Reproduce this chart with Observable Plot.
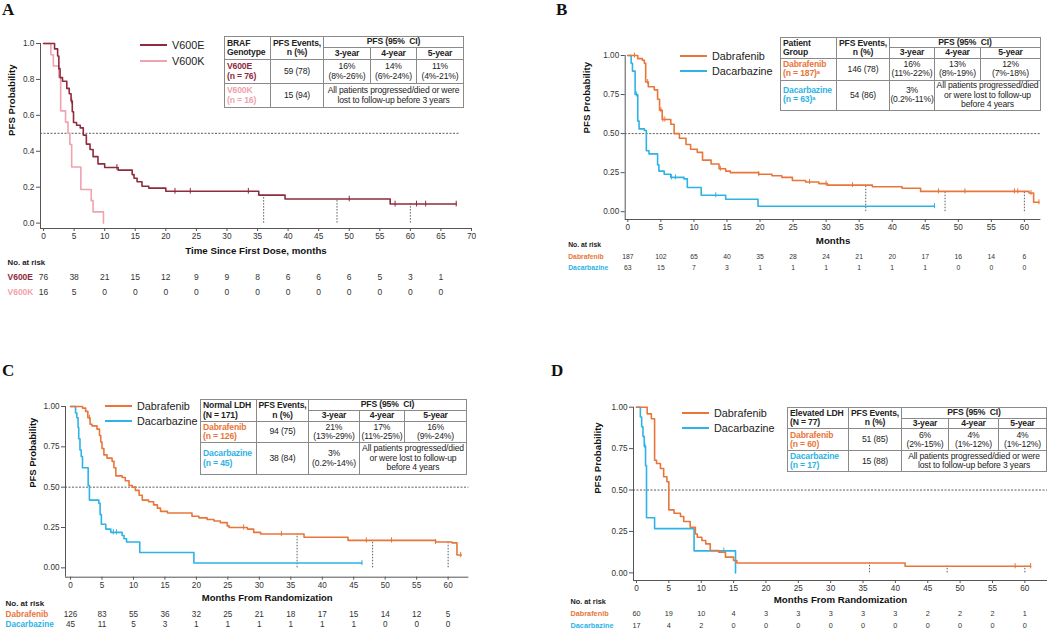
<!DOCTYPE html>
<html><head><meta charset="utf-8">
<script src="https://cdn.jsdelivr.net/npm/d3@7"></script>
<script src="https://cdn.jsdelivr.net/npm/@observablehq/plot@0.6"></script>
<style>
body{margin:0;background:#fff;width:1050px;height:637px;position:relative;overflow:hidden;font-family:"Liberation Sans",Arial,sans-serif;}
.panel{position:absolute;}
.letter{position:absolute;font-family:"Liberation Serif","Times New Roman",serif;font-weight:bold;font-size:17px;line-height:17px;color:#111}
.leg{position:absolute;font-size:10.8px;color:#222;display:flex;align-items:center;height:14px;white-space:nowrap}
.leg .ln{display:inline-block;width:27px;height:2px;margin-right:5px}
table.t{position:absolute;border-collapse:collapse;table-layout:fixed;font-size:8.6px;color:#222;background:#fff;letter-spacing:-0.15px}
table.t td{border:1px solid #8a8a8a;text-align:center;padding:0;line-height:1.1;white-space:nowrap;overflow:visible}
</style></head><body>
<script>
const ORANGE = "#E8763A", CYAN = "#2DB3E6", DRED = "#8E2B3D", PINK = "#EFA3AD";

// ---------- Panel A ----------
const tA_E = [0,1.8,2.3,2.5,2.7,3.1,3.8,4.2,4.5,4.7,4.9,5.4,6.0,6.5,7.0,7.6,8.1,8.9,10.0,12.2,14.5,14.8,15.3,16.1,17.2,20.0,35.2,39.5,56.7,67.5];
const sA_E = [1,0.97,0.93,0.86,0.81,0.79,0.75,0.72,0.68,0.62,0.56,0.545,0.53,0.49,0.44,0.41,0.37,0.33,0.31,0.295,0.27,0.25,0.23,0.205,0.195,0.177,0.156,0.134,0.106,0.106];
const cA_E = [4.6,12.0,21.5,24.0,33.5,50.0,57.5,61.0,62.5,67.5];
const tA_K = [0,1.2,1.6,2.5,2.8,3.6,4.0,4.3,4.6,6.1,7.8,8.1,9.8];
const sA_K = [1,0.9375,0.875,0.8125,0.625,0.5625,0.5,0.4375,0.3125,0.1875,0.125,0.0625,0];
const riskTimesA = [0,5,10,15,20,25,30,35,40,45,50,55,60,65];
const riskA_E = [76,38,21,15,12,9,9,8,6,6,6,5,3,1];
const riskA_K = [16,5,0,0,0,0,0,0,0,0,0,0,0,0];
const xTicksA = [0,5,10,15,20,25,30,35,40,45,50,55,60,65,70];
const yTicksA = [0,0.2,0.4,0.6,0.8,1.0];

// ---------- Panel B ----------
const tB_D = [0,1.5,2.2,2.5,2.7,3.1,4.0,4.5,4.8,5.2,6.5,7.0,7.8,8.8,9.5,10.5,11.3,12.6,13.8,14.8,15.5,19.8,21.8,23.3,24.9,26.9,28.9,30.2,37,41.5,44.3,60.7,61.4,62.2];
const sB_D = [1,0.98,0.97,0.95,0.83,0.80,0.78,0.72,0.65,0.59,0.56,0.50,0.47,0.43,0.40,0.38,0.33,0.305,0.275,0.26,0.25,0.24,0.23,0.22,0.20,0.19,0.18,0.17,0.16,0.15,0.13,0.12,0.06,0.06];
const cB_D = [1.0,3.0,5.0,5.3,5.6,14.0,19.8,27.5,30.0,34.0,47.0,51.0,58.5,59.0,61.0,62.2];
const tB_C = [0,0.5,0.7,1.1,1.5,1.7,2.5,2.8,3.2,4.5,4.7,5.5,6.5,8.5,9.0,11.1,14.8,19.7,46.4];
const sB_C = [1,0.95,0.90,0.75,0.58,0.53,0.52,0.39,0.37,0.30,0.26,0.24,0.22,0.21,0.155,0.105,0.08,0.035,0.035];
const cB_C = [1.3,6.6,7.2,13.3,46.4];
const riskTimesB = [0,5,10,15,20,25,30,35,40,45,50,55,60];
const riskB_D = [187,102,65,40,35,28,24,21,20,17,16,14,6];
const riskB_C = [63,15,7,3,1,1,1,1,1,1,0,0,0];

// ---------- Panel C ----------
const tC_D = [0,1.9,2.4,2.75,3.1,3.4,4.2,4.6,4.8,5.0,5.3,5.8,6.6,6.9,7.2,8.2,8.7,9.3,9.8,10.3,10.9,11.4,12.4,13.2,13.8,14.3,15.4,19.3,20.4,21.7,22.8,23.8,24.9,25.2,28.1,29.1,30.2,37.1,44.1,58.0,60.6,61.4,62.1];
const sC_D = [1,0.99,0.97,0.93,0.89,0.88,0.86,0.82,0.78,0.74,0.70,0.68,0.66,0.62,0.57,0.56,0.54,0.51,0.50,0.48,0.45,0.42,0.41,0.39,0.37,0.35,0.34,0.32,0.31,0.30,0.29,0.28,0.26,0.25,0.24,0.22,0.21,0.19,0.17,0.16,0.155,0.08,0.08];
const cC_D = [3.0,27.5,33.5,47.0,51.0,58.0,62.0];
const tC_C = [0,0.8,1.0,1.2,1.3,1.5,1.7,1.9,2.8,3.0,4.5,4.7,4.9,5.6,6.4,8.2,8.5,8.9,11.0,19.6,46.3];
const sC_C = [1,0.96,0.93,0.87,0.80,0.73,0.69,0.62,0.51,0.42,0.40,0.33,0.27,0.24,0.22,0.20,0.18,0.16,0.095,0.03,0.03];
const cC_C = [6.8,7.3,46.3];
const riskC_D = [126,83,55,36,32,25,21,18,17,15,14,12,5];
const riskC_C = [45,11,5,3,1,1,1,1,1,1,0,0,0];

// ---------- Panel D ----------
const tD_D = [0,1.65,2.3,2.8,3.1,3.7,4.2,4.7,5.0,5.8,6.8,7.3,8.3,9.1,9.4,10.1,10.7,11.4,12.7,13.75,15.0,15.5,41.5,60.9];
const sD_D = [1,0.96,0.93,0.68,0.66,0.63,0.58,0.55,0.38,0.36,0.34,0.31,0.275,0.235,0.215,0.195,0.175,0.135,0.125,0.095,0.075,0.06,0.04,0.04];
const cD_D = [58.5,60.9];
const tD_C = [0,0.6,0.8,1.0,1.2,1.4,1.55,2.8,8.9,15.3];
const sD_C = [1,0.941,0.882,0.824,0.765,0.647,0.333,0.267,0.133,0];
const cD_C = [1.3,13.5];
const riskD_D = [60,19,10,4,3,3,3,3,3,2,2,2,1];
const riskD_C = [17,4,2,0,0,0,0,0,0,0,0,0,0];

const xTicks60 = [0,5,10,15,20,25,30,35,40,45,50,55,60];
const yTicksQ = [0,0.25,0.5,0.75,1.0];
const landmarks = [36,48,60];

// ---------- Table texts ----------
const tableA = {head0:["BRAF","Genotype"], g1:["V600E","(n = 76)"], c1:DRED, ev1:"59 (78)",
  v1:[["16%","(8%-26%)"],["14%","(6%-24%)"],["11%","(4%-21%)"]],
  g2:["V600K","(n = 16)"], c2:PINK, ev2:"15 (94)", v2:[],
  note:["All patients progressed/died or were","lost to follow-up before 3 years"]};
const tableB = {head0:["Patient","Group"], g1:["Dabrafenib","(n = 187)ᵃ"], c1:ORANGE, ev1:"146 (78)",
  v1:[["16%","(11%-22%)"],["13%","(8%-19%)"],["12%","(7%-18%)"]],
  g2:["Dacarbazine","(n = 63)ᵃ"], c2:CYAN, ev2:"54 (86)", v2:[["3%","(0.2%-11%)"]],
  note:["All patients progressed/died","or were lost to follow-up","before 4 years"]};
const tableC = {head0:["Normal LDH","(N = 171)"], g1:["Dabrafenib","(n = 126)"], c1:ORANGE, ev1:"94 (75)",
  v1:[["21%","(13%-29%)"],["17%","(11%-25%)"],["16%","(9%-24%)"]],
  g2:["Dacarbazine","(n = 45)"], c2:CYAN, ev2:"38 (84)", v2:[["3%","(0.2%-14%)"]],
  note:["All patients progressed/died","or were lost to follow-up","before 4 years"]};
const tableD = {head0:["Elevated LDH","(N = 77)"], g1:["Dabrafenib","(n = 60)"], c1:ORANGE, ev1:"51 (85)",
  v1:[["6%","(2%-15%)"],["4%","(1%-12%)"],["4%","(1%-12%)"]],
  g2:["Dacarbazine","(n = 17)"], c2:CYAN, ev2:"15 (88)", v2:[],
  note:["All patients progressed/died or were","lost to follow-up before 3 years"]};
const yearHeads = ["3-year","4-year","5-year"];

// ---------- helpers ----------
function rows(T,S){ return T.map((t,i)=>({t, s:S[i]})); }
function survAt(T,S,t){ let v=S[0]; for(let i=0;i<T.length;i++) if(T[i]<=t) v=S[i]; return v; }

function makePanel(p){
  const marks = [];
  marks.push(Plot.ruleY([0.5], {x1: p.xDomain[0], x2: p.refEnd, stroke:"#333", strokeWidth:0.8, strokeDasharray:"2,1.5"}));
  const lm = p.series[p.landmarkSeries];
  marks.push(Plot.ruleX(landmarks, {x:d=>d, y1:0, y2:d=>survAt(lm.T,lm.S,d), stroke:"#333", strokeWidth:0.8, strokeDasharray:"1.5,1.5"}));
  marks.push(Plot.ruleX([p.xDomain[0]], {y1:p.yDomain[0], y2:1, stroke:"#555", strokeWidth:1}));
  marks.push(Plot.ruleY([p.yDomain[0]], {x1:p.xDomain[0], x2:p.xDomain[1], stroke:"#555", strokeWidth:1}));
  for (const s of p.series.slice().reverse()) {
    marks.push(Plot.line(rows(s.T,s.S), {x:"t", y:"s", curve:"step-after", stroke:s.color, strokeWidth:1.6}));
    if (s.C.length) marks.push(Plot.ruleX(s.C, {x:d=>d, y1:d=>survAt(s.T,s.S,d)-0.016, y2:d=>survAt(s.T,s.S,d)+0.016, stroke:s.color, strokeWidth:1}));
  }
  marks.push(Plot.axisX({ticks:p.xTicks, tickSize:3, tickPadding:2, label:null, stroke:"#555", fill:"#333"}));
  marks.push(Plot.axisY({ticks:p.yTicks, tickFormat:p.yFmt, tickSize:4, tickPadding:2, label:null, stroke:"#555", fill:"#333"}));
  marks.push(Plot.text([p.xTitle], {text:d=>d, frameAnchor:"bottom", dy:p.xTitleDy, fontWeight:"bold", fontSize:p.titleFont, fill:"#111"}));
  marks.push(Plot.text(["PFS Probability"], {text:d=>d, frameAnchor:"left", rotate:-90, dx:p.yTitleDx, dy:p.yTitleDy||0, fontWeight:"bold", fontSize:p.titleFont, fill:"#111"}));
  marks.push(Plot.text(["No. at risk"], {text:d=>d, frameAnchor:"bottom-left", dx:p.riskDx, dy:p.riskDy[0], textAnchor:"start", fontWeight:"bold", fontSize:p.riskHeadFont, fill:"#222"}));
  p.series.forEach((s,k)=>{
    marks.push(Plot.text([s.name], {text:d=>d, frameAnchor:"bottom-left", dx:p.riskDx, dy:p.riskDy[k+1], textAnchor:"start", fontWeight:"bold", fontSize:p.riskFont, fill:s.color}));
    marks.push(Plot.text(p.riskTimes.map((t,i)=>({t, n:s.risk[i]})), {x:"t", text:"n", frameAnchor:"bottom", dy:p.riskDy[k+1], fontSize:p.riskFont, fill:"#333"}));
  });
  const svg = Plot.plot({
    width:p.width, height:p.height,
    marginLeft:p.m[0], marginRight:p.m[1], marginTop:p.m[2], marginBottom:p.m[3],
    x:{domain:p.xDomain}, y:{domain:p.yDomain},
    style:{fontFamily:'"Liberation Sans", Arial, sans-serif', fontSize:p.tickFont+"px", background:"transparent", overflow:"visible", color:"#333"},
    marks
  });
  const div = document.createElement("div");
  div.className="panel"; div.style.left=p.left+"px"; div.style.top=p.top+"px";
  div.appendChild(svg); document.body.appendChild(div);
}

function makeTable(t, g){
  const tb = document.createElement("table"); tb.className="t";
  tb.style.left=g.left+"px"; tb.style.top=g.top+"px";
  tb.style.width=g.cols.reduce((a,b)=>a+b,0)+"px";
  const lines = a => a.join("<br>");
  let h = "<colgroup>"+g.cols.map(w=>`<col style="width:${w}px">`).join("")+"</colgroup>";
  h += `<tr style="height:${g.rows[0]}px"><td rowspan="2" style="text-align:left;font-weight:bold;padding-left:2px">${lines(t.head0)}</td><td rowspan="2" style="font-weight:bold">PFS Events,<br>n (%)</td><td colspan="3" style="font-weight:bold">PFS (95%&nbsp; CI)</td></tr>`;
  h += `<tr style="height:${g.rows[1]}px">`+yearHeads.map(y=>`<td style="font-weight:bold">${y}</td>`).join("")+`</tr>`;
  h += `<tr style="height:${g.rows[2]}px"><td style="text-align:left;font-weight:bold;color:${t.c1};padding-left:2px">${lines(t.g1)}</td><td>${t.ev1}</td>`+t.v1.map(v=>`<td>${lines(v)}</td>`).join("")+`</tr>`;
  h += `<tr style="height:${g.rows[3]}px"><td style="text-align:left;font-weight:bold;color:${t.c2};padding-left:2px">${lines(t.g2)}</td><td>${t.ev2}</td>`+t.v2.map(v=>`<td>${lines(v)}</td>`).join("")+`<td colspan="${3-t.v2.length}">${lines(t.note)}</td></tr>`;
  tb.innerHTML = h; document.body.appendChild(tb);
}

function legend(items, x, y0, dyStep){
  items.forEach((it,i)=>{
    const d=document.createElement("div"); d.className="leg";
    d.style.left=x+"px"; d.style.top=(y0+i*dyStep-7)+"px";
    d.innerHTML=`<span class="ln" style="background:${it[1]}"></span><span>${it[0]}</span>`;
    document.body.appendChild(d);
  });
}
function letter(ch,x,y){ const d=document.createElement("div"); d.className="letter"; d.textContent=ch; d.style.left=x+"px"; d.style.top=y+"px"; document.body.appendChild(d); }

// ---------- build ----------
makePanel({left:0, top:0, width:525, height:320, m:[40,54,43,92],
  xDomain:[-0.5,70], yDomain:[-0.03,1], xTicks:xTicksA, yTicks:yTicksA, yFmt:d3.format(".1f"), refEnd:68,
  series:[{name:"V600E", color:DRED, T:tA_E, S:sA_E, C:cA_E, risk:riskA_E},
          {name:"V600K", color:PINK, T:tA_K, S:sA_K, C:[], risk:riskA_K}],
  landmarkSeries:0, xTitle:"Time Since First Dose, months", xTitleDy:25, yTitleDx:-29, titleFont:9.7, tickFont:8.3,
  riskTimes:riskTimesA, riskDx:-33, riskDy:[36,51,66], riskFont:8.5, riskHeadFont:7.8});
makePanel({left:525, top:0, width:525, height:320, m:[99.7,9.6,55,101],
  xDomain:[-0.4,62.5], yDomain:[-0.05,1], xTicks:xTicks60, yTicks:yTicksQ, yFmt:d3.format(".2f"), refEnd:62.5,
  series:[{name:"Dabrafenib", color:ORANGE, T:tB_D, S:sB_D, C:cB_D, risk:riskB_D},
          {name:"Dacarbazine", color:CYAN, T:tB_C, S:sB_C, C:cB_C, risk:riskB_C}],
  landmarkSeries:0, xTitle:"Months", xTitleDy:24, yTitleDx:-38, yTitleDy:-4, titleFont:9.7, tickFont:8.2,
  riskTimes:riskTimesB, riskDx:-57, riskDy:[27,39,50], riskFont:6.8, riskHeadFont:6.8});
makePanel({left:0, top:320, width:525, height:317, m:[65,56.6,86,60.3],
  xDomain:[-0.8,63.3], yDomain:[-0.058,1], xTicks:xTicks60, yTicks:yTicksQ, yFmt:d3.format(".2f"), refEnd:63.3,
  series:[{name:"Dabrafenib", color:ORANGE, T:tC_D, S:sC_D, C:cC_D, risk:riskC_D},
          {name:"Dacarbazine", color:CYAN, T:tC_C, S:sC_C, C:cC_C, risk:riskC_C}],
  landmarkSeries:0, xTitle:"Months From Randomization", xTitleDy:24, yTitleDx:-33, yTitleDy:-4, titleFont:9.5, tickFont:8.2,
  riskTimes:riskTimesB, riskDx:-60, riskDy:[29,40,50], riskFont:8.2, riskHeadFont:8});
makePanel({left:525, top:320, width:525, height:317, m:[108,3,86.7,57],
  xDomain:[-0.46,63.5], yDomain:[-0.046,1], xTicks:xTicks60, yTicks:yTicksQ, yFmt:d3.format(".2f"), refEnd:63.5,
  series:[{name:"Dabrafenib", color:ORANGE, T:tD_D, S:sD_D, C:cD_D, risk:riskD_D},
          {name:"Dacarbazine", color:CYAN, T:tD_C, S:sD_C, C:cD_C, risk:riskD_C}],
  landmarkSeries:0, xTitle:"Months From Randomization", xTitleDy:22, yTitleDx:-36, titleFont:9.7, tickFont:8.2,
  riskTimes:riskTimesB, riskDx:-63, riskDy:[23,35,47], riskFont:7.3, riskHeadFont:7.3});

makeTable(tableA, {left:224, top:36, cols:[46,53,47,46,47], rows:[11,12,24,24]});
makeTable(tableB, {left:780, top:37, cols:[56,53,45,46,60], rows:[10,10,22,30]});
makeTable(tableC, {left:200, top:399, cols:[56,52,51,45,62], rows:[11,11,21,32]});
makeTable(tableD, {left:787, top:407, cols:[61,53,47,50,48], rows:[11,10,22,21]});

legend([["V600E",DRED],["V600K",PINK]], 140, 45, 16);
legend([["Dabrafenib",ORANGE],["Dacarbazine",CYAN]], 680, 56, 15);
legend([["Dabrafenib",ORANGE],["Dacarbazine",CYAN]], 105, 406, 15);
legend([["Dabrafenib",ORANGE],["Dacarbazine",CYAN]], 682, 413, 15);

letter("A",2,1); letter("B",556,1); letter("C",2,362); letter("D",551,362);
</script>
</body></html>
